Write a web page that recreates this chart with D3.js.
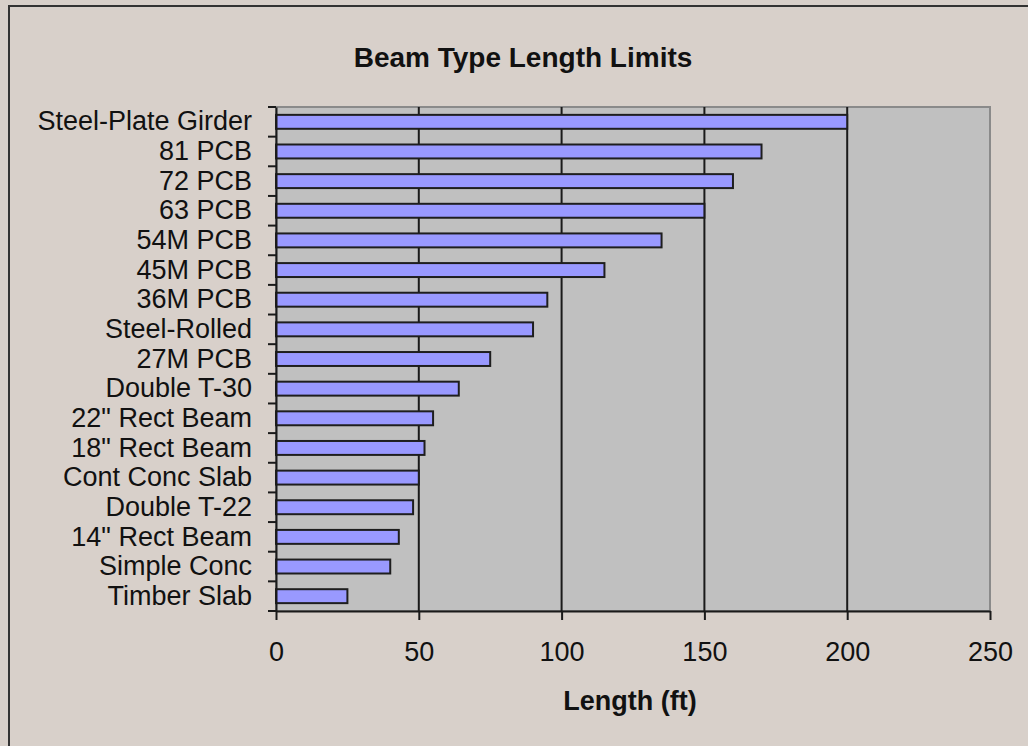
<!DOCTYPE html>
<html>
<head>
<meta charset="utf-8">
<script src="https://cdn.jsdelivr.net/npm/d3@7"></script>
<style>
  html, body { margin: 0; padding: 0; background: #d8d0ca; }
  svg { display: block; }
  text { font-family: "Liberation Sans", Arial, sans-serif; fill: #111; }
</style>
</head>
<body>
<div id="chart"></div>
<script>
const categories = [
    "Steel-Plate Girder", "81 PCB", "72 PCB", "63 PCB", "54M PCB", "45M PCB",
    "36M PCB", "Steel-Rolled", "27M PCB", "Double T-30", "22\" Rect Beam",
    "18\" Rect Beam", "Cont Conc Slab", "Double T-22", "14\" Rect Beam",
    "Simple Conc", "Timber Slab"
];
const lengths = [200, 170, 160, 150, 135, 115, 95, 90, 75, 64, 55, 52, 50, 48, 43, 40, 25];
const xTicks = [0, 50, 100, 150, 200, 250];

const width = 1028, height = 746;
const plot = { left: 276, right: 990, top: 107, bottom: 611 };

const svg = d3.select("#chart").append("svg")
    .attr("width", width)
    .attr("height", height);

// outer chart border (right/bottom edges fall outside the picture)
svg.append("rect")
    .attr("x", 9).attr("y", 6)
    .attr("width", width + 20).attr("height", height + 20)
    .attr("fill", "#d8d0ca")
    .attr("stroke", "#333")
    .attr("stroke-width", 2);

const x = d3.scaleLinear().domain([0, 250]).range([plot.left, plot.right]);
const y = d3.scaleBand().domain(categories).range([plot.top, plot.bottom]).paddingInner(0);

// plot area
svg.append("rect")
    .attr("x", plot.left).attr("y", plot.top)
    .attr("width", plot.right - plot.left).attr("height", plot.bottom - plot.top)
    .attr("fill", "#c0c0c0")
    .attr("stroke", "#8a8a8a")
    .attr("stroke-width", 2);

// vertical gridlines
svg.append("g").selectAll("line")
    .data(xTicks.filter(d => d > 0 && d < 250))
    .join("line")
    .attr("x1", d => x(d)).attr("x2", d => x(d))
    .attr("y1", plot.top).attr("y2", plot.bottom)
    .attr("stroke", "#1a1a1a")
    .attr("stroke-width", 2);

// bars
const barFrac = 0.47;
svg.append("g").selectAll("rect")
    .data(categories)
    .join("rect")
    .attr("x", x(0))
    .attr("y", (d) => y(d) + y.bandwidth() * (1 - barFrac) / 2)
    .attr("width", (d, i) => x(lengths[i]) - x(0))
    .attr("height", y.bandwidth() * barFrac)
    .attr("fill", "#9999ff")
    .attr("stroke", "#1e1e1e")
    .attr("stroke-width", 2);

// x axis
const xAxis = svg.append("g")
    .attr("transform", `translate(0,${plot.bottom})`)
    .call(d3.axisBottom(x).tickValues(xTicks).tickSize(9).tickPadding(22).tickSizeOuter(0));
xAxis.select(".domain").attr("stroke", "#1a1a1a").attr("stroke-width", 2);
xAxis.selectAll(".tick line").attr("stroke", "#1a1a1a").attr("stroke-width", 2);
xAxis.selectAll("text").style("font-size", "27px").attr("fill", "#111").attr("font-family", null);

// y axis: labels centred on bands, ticks at band edges
const yAxis = svg.append("g")
    .attr("transform", `translate(${plot.left},0)`)
    .call(d3.axisLeft(y).tickSize(0).tickPadding(24));
yAxis.select(".domain").attr("stroke", "#1a1a1a").attr("stroke-width", 2);
yAxis.selectAll("text").style("font-size", "27px").attr("fill", "#111").attr("font-family", null);

const edges = categories.map(c => y(c)).concat([plot.bottom]);
svg.append("g").selectAll("line")
    .data(edges)
    .join("line")
    .attr("x1", plot.left - 8).attr("x2", plot.left)
    .attr("y1", d => d).attr("y2", d => d)
    .attr("stroke", "#1a1a1a")
    .attr("stroke-width", 2);

// title
svg.append("text")
    .attr("x", 523).attr("y", 67)
    .attr("text-anchor", "middle")
    .style("font-size", "28px")
    .style("font-weight", "bold")
    .text("Beam Type Length Limits");

// axis title
svg.append("text")
    .attr("x", 630).attr("y", 710)
    .attr("text-anchor", "middle")
    .style("font-size", "27px")
    .style("font-weight", "bold")
    .text("Length (ft)");
</script>
</body>
</html>
